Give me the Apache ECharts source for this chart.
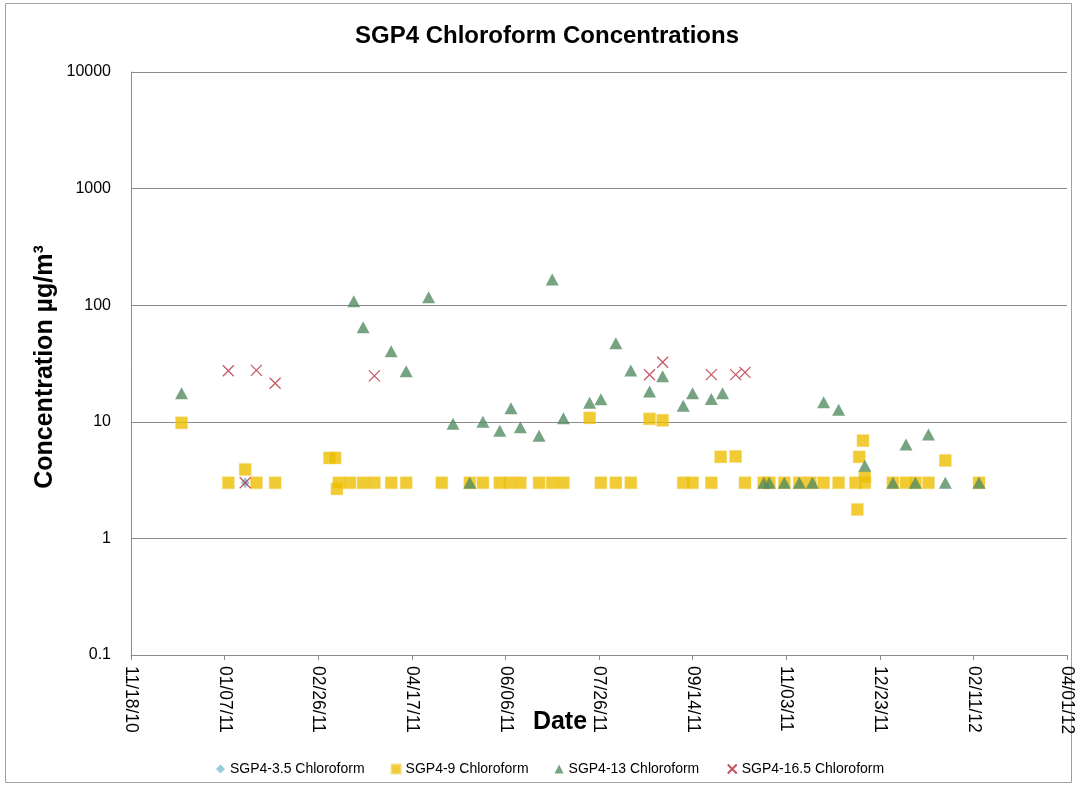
<!DOCTYPE html>
<html>
<head>
<meta charset="utf-8">
<script src="https://cdn.jsdelivr.net/npm/echarts@6/dist/echarts.min.js"></script>
<style>
  html, body { margin: 0; padding: 0; background: #fff; }
  #chart { width: 1076px; height: 786px; }
</style>
</head>
<body>
<div id="chart"></div>
<script>
// dates are Excel serial days (40500 = 11/18/10)
const xTickMin = 40500, xTickMax = 41000, xTickStep = 50;

const sgp35Dates = [40561];
const sgp35Vals  = [3.0];

const sgp9Dates = [40527, 40552, 40561, 40567, 40577, 40606, 40609, 40610, 40611, 40617,
  40624, 40630, 40639, 40647, 40666, 40681, 40688, 40697, 40702, 40708,
  40718, 40725, 40731, 40745, 40751, 40759, 40767, 40777, 40784, 40795,
  40800, 40810, 40815, 40823, 40828, 40838, 40841, 40849, 40857, 40863,
  40870, 40878, 40887, 40888, 40889, 40891, 40892, 40892, 40907, 40914,
  40919, 40926, 40935, 40953];
const sgp9Vals = [9.8, 3.0, 3.9, 3.0, 3.0, 4.9, 4.9, 2.66, 3.0, 3.0,
  3.0, 3.0, 3.0, 3.0, 3.0, 3.0, 3.0, 3.0, 3.0, 3.0,
  3.0, 3.0, 3.0, 10.8, 3.0, 3.0, 3.0, 10.6, 10.3, 3.0,
  3.0, 3.0, 5.0, 5.05, 3.0, 3.0, 3.0, 3.0, 3.0, 3.0,
  3.0, 3.0, 3.0, 1.77, 5.0, 6.9, 3.0, 3.35, 3.0, 3.0,
  3.0, 3.0, 4.66, 3.0];

const sgp13Dates = [40527, 40619, 40624, 40639, 40647, 40659, 40672, 40681, 40688, 40697,
  40703, 40708, 40718, 40725, 40731, 40745, 40751, 40759, 40767, 40777,
  40784, 40795, 40800, 40810, 40816, 40838, 40841, 40849, 40857, 40864,
  40870, 40878, 40892, 40907, 40914, 40919, 40926, 40935, 40953];
const sgp13Vals = [17.6, 108, 64.7, 40.3, 27.2, 117, 9.6, 3.0, 10.0, 8.4,
  13.1, 9.0, 7.6, 166, 10.7, 14.6, 15.6, 47.2, 27.5, 18.2,
  24.6, 13.7, 17.6, 15.7, 17.6, 3.0, 3.0, 3.0, 3.0, 3.0,
  14.7, 12.7, 4.2, 3.0, 6.4, 3.0, 7.8, 3.0, 3.0];

const sgp165Dates = [40552, 40561, 40567, 40577, 40630, 40777, 40784, 40810, 40823, 40828];
const sgp165Vals  = [27.4, 3.0, 27.6, 21.4, 24.8, 25.3, 32.4, 25.4, 25.4, 26.5];

const seriesNames = ['SGP4-3.5 Chloroform', 'SGP4-9 Chloroform', 'SGP4-13 Chloroform', 'SGP4-16.5 Chloroform'];

function zip(d, v) { return d.map((x, i) => [x, v[i]]); }

const excelBase = Date.UTC(1899, 11, 30);
function fmtDate(serial) {
  const d = new Date(excelBase + Math.round(serial) * 86400000);
  const p = n => (n < 10 ? '0' : '') + n;
  return p(d.getUTCMonth() + 1) + '/' + p(d.getUTCDate()) + '/' + p(d.getUTCFullYear() % 100);
}

const font = '"Liberation Sans", Arial, sans-serif';
const gridGray = '#8c8c8c';
const crossPath = 'path://M0,0L10,10M10,0L0,10';

let myChart = echarts.init(document.getElementById('chart'));
myChart.setOption({
  animation: false,
  backgroundColor: '#ffffff',
  textStyle: { fontFamily: font },
  title: {
    text: 'SGP4 Chloroform Concentrations',
    left: 542,
    textAlign: 'center',
    top: 19,
    textStyle: { fontSize: 24, fontWeight: 'bold', color: '#000', fontFamily: font }
  },
  graphic: [
    { type: 'rect', shape: { x: 5.5, y: 3.5, width: 1066, height: 779 }, style: { fill: 'none', stroke: '#a0a0a0', lineWidth: 1 }, z: -1 },
    { type: 'text', x: 560, y: 722, style: { text: 'Date', font: 'bold 25px ' + font, fill: '#000', textAlign: 'center', textVerticalAlign: 'middle' } },
    { type: 'text', x: 45, y: 367, rotation: Math.PI / 2, style: { text: 'Concentration µg/m³', font: 'bold 25px ' + font, fill: '#000', textAlign: 'center', textVerticalAlign: 'middle' } }
  ],
  legend: {
    left: 211,
    top: 757,
    itemWidth: 9,
    itemHeight: 9,
    itemGap: 26,
    textStyle: { fontSize: 14, color: '#000', fontFamily: font },
    data: seriesNames
  },
  grid: { left: 131, right: 7, top: 72, bottom: 131 },
  xAxis: {
    type: 'value',
    min: xTickMin,
    max: xTickMax,
    interval: xTickStep,
    axisLine: { lineStyle: { color: gridGray } },
    axisTick: { show: true, length: 5, lineStyle: { color: gridGray } },
    splitLine: { show: false },
    axisLabel: { rotate: -90, fontSize: 17.5, color: '#000', margin: 11, formatter: v => fmtDate(v) }
  },
  yAxis: {
    type: 'log',
    logBase: 10,
    min: 0.1,
    max: 10000,
    axisLine: { show: true, lineStyle: { color: gridGray } },
    axisTick: { show: false },
    splitLine: { lineStyle: { color: gridGray } },
    axisLabel: { fontSize: 16, color: '#000', margin: 20, formatter: v => String(+v.toPrecision(6)) }
  },
  series: [
    {
      name: seriesNames[0], type: 'scatter', symbol: 'diamond', symbolSize: [9, 11],
      itemStyle: { color: '#7EBDD5' }, data: zip(sgp35Dates, sgp35Vals)
    },
    {
      name: seriesNames[1], type: 'scatter', symbol: 'rect', symbolSize: 12,
      itemStyle: { color: '#ECBE00', borderColor: '#F5D56A', borderWidth: 0.5 }, data: zip(sgp9Dates, sgp9Vals)
    },
    {
      name: seriesNames[2], type: 'scatter', symbol: 'triangle', symbolSize: [13, 12],
      itemStyle: { color: '#548C62' }, data: zip(sgp13Dates, sgp13Vals)
    },
    {
      name: seriesNames[3], type: 'scatter', symbol: crossPath, symbolSize: 11,
      itemStyle: { color: 'none', borderColor: '#B8283A', borderWidth: 1.2 }, data: zip(sgp165Dates, sgp165Vals)
    }
  ]
});
</script>
</body>
</html>
